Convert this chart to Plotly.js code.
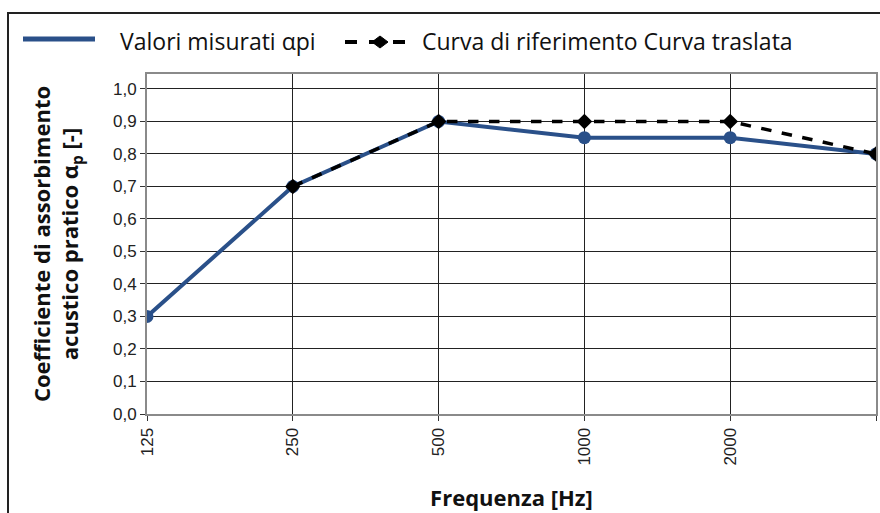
<!DOCTYPE html>
<html><head><meta charset="utf-8">
<script src="https://cdn.plot.ly/plotly-3.0.1.min.js"></script>
<style>html,body{margin:0;padding:0;background:#fff}#chart{width:880px;height:513px}</style>
</head><body><div id="chart"></div>
<script>
const categories = ['125','250','500','1000','2000','4000'];
const tickLabels = ['125','250','500','1000','2000',''];
const valoriMisurati = [0.30, 0.70, 0.90, 0.85, 0.85, 0.80];
const curvaRiferimento = [null, 0.70, 0.90, 0.90, 0.90, 0.80];
const yTicks = [0,0.1,0.2,0.3,0.4,0.5,0.6,0.7,0.8,0.9,1.0];
const seriesNames = ['Valori misurati αpi', 'Curva di riferimento Curva traslata'];

const BLUE = '#2a5089';
const L = 147, R = 876, T = 74, B = 414;
const px = v => (v - L) / (R - L);
const py = v => (B - v) / (B - T);

const idx = categories.map((c,i)=>i);
const traces = [
  {x: idx, y: valoriMisurati, name: seriesNames[0], mode: 'lines+markers',
   line: {color: BLUE, width: 4}, marker: {color: BLUE, size: 13, symbol: 'circle'}},
  {x: idx, y: curvaRiferimento, name: seriesNames[1], mode: 'lines+markers',
   line: {color: '#000', width: 3.5, dash: 'dash'}, marker: {color: '#000', size: 12, symbol: 'diamond'},
   connectgaps: false}
];
const legendFont = {family: '"Open Sans", sans-serif', size: 23, color: '#111'};
const titleFont = {family: '"Open Sans", sans-serif', size: 22, color: '#111', weight: 'bold'};
const tickFont = {family: '"Liberation Sans Narrow", "Liberation Sans", sans-serif', size: 17, color: '#222'};

const layout = {
  width: 880, height: 513,
  margin: {l: L, r: 880 - R, t: T, b: 513 - B},
  paper_bgcolor: '#fff', plot_bgcolor: '#fff',
  separators: ',.',
  showlegend: false,
  xaxis: {range: [0, 5], tickvals: idx, ticktext: tickLabels, tickangle: -90,
    showgrid: true, gridcolor: '#222', gridwidth: 1, zeroline: false,
    showline: true, linecolor: '#8a8a8a', linewidth: 2, mirror: true,
    ticks: 'outside', ticklen: 5, tickcolor: '#333', tickfont: tickFont,
    title: {text: 'Frequenza [Hz]', font: titleFont, standoff: 26}},
  yaxis: {range: [0, 1.046], tickvals: yTicks, tickformat: '.1f',
    showgrid: true, gridcolor: '#222', gridwidth: 1, zeroline: false,
    showline: true, linecolor: '#8a8a8a', linewidth: 2, mirror: true,
    ticks: 'outside', ticklen: 5, tickcolor: '#333', tickfont: tickFont,
    title: {text: 'Coefficiente di assorbimento<br>acustico pratico α<sub>p</sub> [-]', font: titleFont, standoff: 28}},
  shapes: [
    {type: 'rect', xref: 'paper', yref: 'paper', x0: px(8), x1: 1.02, y0: -0.35, y1: py(13),
     line: {color: '#222', width: 2}, fillcolor: 'rgba(0,0,0,0)', layer: 'below'},
    {type: 'line', xref: 'paper', yref: 'paper', x0: px(23), x1: px(95), y0: py(39), y1: py(39),
     line: {color: BLUE, width: 5}},
    {type: 'line', xref: 'paper', yref: 'paper', x0: px(345), x1: px(415), y0: py(42), y1: py(42),
     line: {color: '#000', width: 4, dash: 'dash'}},
    {type: 'path', xref: 'paper', yref: 'paper',
     path: `M ${px(372)} ${py(42)} L ${px(380)} ${py(36)} L ${px(388)} ${py(42)} L ${px(380)} ${py(48)} Z`,
     fillcolor: '#000', line: {color: '#000', width: 1}}
  ],
  annotations: [
    {xref: 'paper', yref: 'paper', x: px(118), y: py(41), xanchor: 'left', yanchor: 'middle',
     text: seriesNames[0], showarrow: false, font: legendFont},
    {xref: 'paper', yref: 'paper', x: px(420), y: py(41), xanchor: 'left', yanchor: 'middle',
     text: seriesNames[1], showarrow: false, font: legendFont}
  ]
};
Plotly.newPlot('chart', traces, layout, {displayModeBar: false, staticPlot: true});
</script></body></html>
